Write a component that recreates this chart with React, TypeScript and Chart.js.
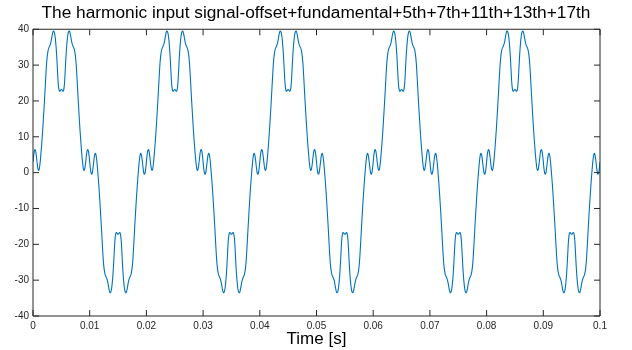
import { useEffect, useRef } from 'react';
import { Chart, registerables } from 'chart.js';

Chart.register(...registerables);

const TITLE = 'The harmonic input signal-offset+fundamental+5th+7th+11th+13th+17th';
const X_LABEL = 'Time [s]';
const X_TICKS = [0, 0.01, 0.02, 0.03, 0.04, 0.05, 0.06, 0.07, 0.08, 0.09, 0.1];
const X_TICK_LABELS = ['0', '0.01', '0.02', '0.03', '0.04', '0.05', '0.06', '0.07', '0.08', '0.09', '0.1'];
const Y_TICKS = [-40, -30, -20, -10, 0, 10, 20, 30, 40];

// sample spacing of the read-off waveform (seconds) and number of periods shown
const SAMPLE_STEP = 0.0001;
const PERIOD_COUNT = 5;

// one 20 ms period of the signal, every 0.1 ms
const PERIOD_VALUES = [
  3.0, 4.6, 5.8, 6.4, 6.4, 5.7, 4.5, 3.1, 1.8, 0.9,
  0.6, 1.0, 2.0, 3.5, 5.3, 7.3, 9.4, 11.7, 14.2, 16.8,
  19.5, 22.3, 25.2, 28.0, 30.5, 32.3, 33.5, 34.3, 34.8, 35.1,
  35.5, 36.0, 36.7, 37.6, 38.5, 39.2, 39.5, 39.4, 38.9, 37.9,
  36.4, 34.5, 32.0, 29.0, 26.0, 24.0, 23.0, 22.7, 22.8, 23.1,
  23.2, 23.1, 22.8, 22.7, 23.0, 24.0, 26.0, 29.0, 32.0, 34.5,
  36.4, 37.9, 38.9, 39.4, 39.5, 39.2, 38.5, 37.6, 36.7, 36.0,
  35.5, 35.1, 34.8, 34.3, 33.5, 32.3, 30.5, 28.0, 25.2, 22.3,
  19.5, 16.8, 14.2, 11.7, 9.4, 7.3, 5.3, 3.5, 2.0, 1.0,
  0.6, 0.9, 1.8, 3.1, 4.5, 5.7, 6.4, 6.4, 5.8, 4.6,
  3.0, 1.4, 0.2, -0.4, -0.4, 0.3, 1.5, 2.9, 4.2, 5.1,
  5.4, 5.0, 4.0, 2.5, 0.7, -1.3, -3.4, -5.7, -8.2, -10.8,
  -13.5, -16.3, -19.2, -22.0, -24.5, -26.3, -27.5, -28.3, -28.8, -29.1,
  -29.5, -30.0, -30.7, -31.6, -32.5, -33.2, -33.5, -33.4, -32.9, -31.9,
  -30.4, -28.5, -26.0, -23.0, -20.0, -18.0, -17.0, -16.7, -16.8, -17.1,
  -17.2, -17.1, -16.8, -16.7, -17.0, -18.0, -20.0, -23.0, -26.0, -28.5,
  -30.4, -31.9, -32.9, -33.4, -33.5, -33.2, -32.5, -31.6, -30.7, -30.0,
  -29.5, -29.1, -28.8, -28.3, -27.5, -26.3, -24.5, -22.0, -19.2, -16.3,
  -13.5, -10.8, -8.2, -5.7, -3.4, -1.3, 0.7, 2.5, 4.0, 5.0,
  5.4, 5.1, 4.2, 2.9, 1.5, 0.3, -0.4, -0.4, 0.2, 1.4,
];

const FONT = "'Liberation Sans', Arial, Helvetica, sans-serif";
const AXIS_COLOR = '#262626';
const LINE_COLOR = '#0072BD';

function buildPoints() {
  const pts: { x: number; y: number }[] = [];
  const n = PERIOD_VALUES.length;
  for (let p = 0; p < PERIOD_COUNT; p++) {
    for (let i = 0; i < n; i++) {
      pts.push({ x: (p * n + i) * SAMPLE_STEP, y: PERIOD_VALUES[i] });
    }
  }
  pts.push({ x: PERIOD_COUNT * n * SAMPLE_STEP, y: PERIOD_VALUES[0] });
  return pts;
}

const boxPlugin = {
  id: 'matlabBox',
  afterDraw(chart: any) {
    const { ctx, chartArea, scales } = chart;
    const { left, right, top, bottom } = chartArea;
    const tl = 6;
    ctx.save();
    ctx.strokeStyle = AXIS_COLOR;
    ctx.lineWidth = 1;
    ctx.beginPath();
    ctx.rect(left, top, right - left, bottom - top);
    X_TICKS.forEach((v) => {
      const px = scales.x.getPixelForValue(v);
      ctx.moveTo(px, bottom);
      ctx.lineTo(px, bottom - tl);
      ctx.moveTo(px, top);
      ctx.lineTo(px, top + tl);
    });
    Y_TICKS.forEach((v) => {
      const py = scales.y.getPixelForValue(v);
      ctx.moveTo(left, py);
      ctx.lineTo(left + tl, py);
      ctx.moveTo(right, py);
      ctx.lineTo(right - tl, py);
    });
    ctx.stroke();
    ctx.restore();
  },
};

export default function App() {
  const canvasRef = useRef<HTMLCanvasElement | null>(null);

  useEffect(() => {
    if (!canvasRef.current) return;
    const chart = new Chart(canvasRef.current, {
      type: 'line',
      data: {
        datasets: [
          {
            data: buildPoints(),
            borderColor: LINE_COLOR,
            borderWidth: 1.1,
            pointRadius: 0,
            tension: 0.3,
            fill: false,
          },
        ],
      },
      options: {
        animation: false,
        responsive: false,
        parsing: false as any,
        layout: { padding: { left: 0, right: 0, top: 0, bottom: 0 } },
        plugins: {
          legend: { display: false },
          tooltip: { enabled: false },
          title: {
            display: true,
            text: TITLE,
            color: '#000000',
            font: { family: FONT, size: 17.3, weight: 'normal' as any, lineHeight: 1.2 },
            padding: { top: 3, bottom: 5.5 },
          },
        },
        scales: {
          x: {
            type: 'linear',
            min: 0,
            max: 0.1,
            afterFit: (s: any) => {
              s.height = 34;
            },
            afterBuildTicks: (s: any) => {
              s.ticks = X_TICKS.map((v) => ({ value: v }));
            },
            ticks: {
              color: AXIS_COLOR,
              font: { family: FONT, size: 10 },
              padding: 4,
              maxRotation: 0,
              autoSkip: false,
              callback: (v: any) => {
                const idx = X_TICKS.findIndex((t) => Math.abs(t - Number(v)) < 1e-9);
                return idx >= 0 ? X_TICK_LABELS[idx] : '';
              },
            },
            grid: { display: false, drawTicks: false },
            border: { display: false },
            title: {
              display: true,
              text: X_LABEL,
              color: '#000000',
              font: { family: FONT, size: 17, lineHeight: 1.2 },
              padding: { top: 0, bottom: 0 },
            },
          },
          y: {
            type: 'linear',
            min: -40,
            max: 40,
            afterFit: (s: any) => {
              s.width = 33;
            },
            afterBuildTicks: (s: any) => {
              s.ticks = Y_TICKS.map((v) => ({ value: v }));
            },
            ticks: {
              color: AXIS_COLOR,
              font: { family: FONT, size: 10 },
              padding: 4,
              autoSkip: false,
            },
            grid: { display: false, drawTicks: false },
            border: { display: false },
          },
          yRight: {
            type: 'linear',
            position: 'right',
            min: -40,
            max: 40,
            afterFit: (s: any) => {
              s.width = 32;
            },
            ticks: { display: false },
            grid: { display: false, drawTicks: false },
            border: { display: false },
          },
        },
      },
      plugins: [boxPlugin],
    });
    return () => chart.destroy();
  }, []);

  return (
    <div style={{ position: 'fixed', left: 0, top: 0, width: 632, height: 350, background: '#ffffff' }}>
      <canvas ref={canvasRef} width={632} height={350} />
    </div>
  );
}
